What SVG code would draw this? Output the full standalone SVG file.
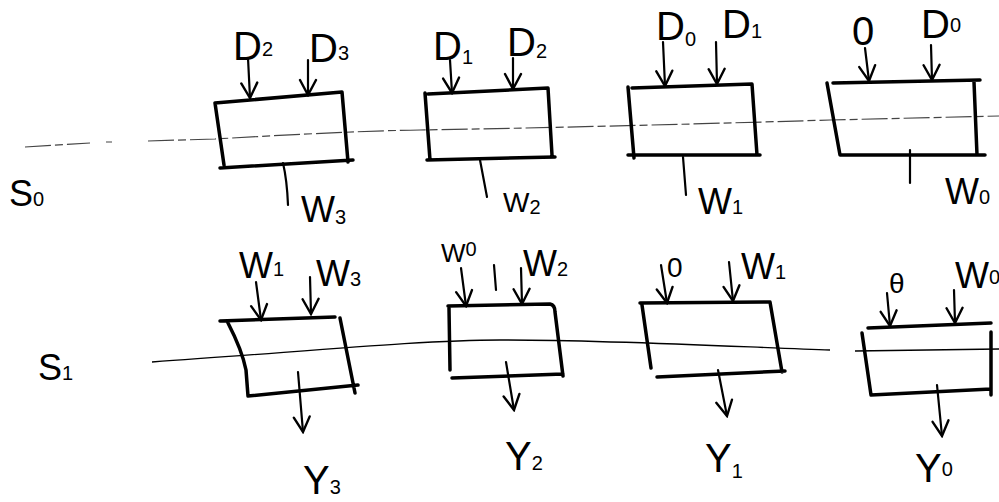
<svg xmlns="http://www.w3.org/2000/svg" width="999" height="502" viewBox="0 0 999 502">
<style>
.box{fill:none;stroke:#000;stroke-width:3.5;stroke-linejoin:round;stroke-linecap:round}
.arr{fill:none;stroke:#000;stroke-width:2.2;stroke-linecap:round;marker-end:url(#ah)}
.ln{fill:none;stroke:#000;stroke-width:2.2;stroke-linecap:round}
.bus0{fill:none;stroke:#444;stroke-width:1.2;stroke-dasharray:26 4 8 4}
.bus1{fill:none;stroke:#000;stroke-width:1.3}
.lab{font-family:"Liberation Sans",Arial,sans-serif;font-size:36px;fill:#000}
.big{font-size:40px}
.sub{font-size:20px}
</style>
<defs>
<marker id="ah" viewBox="0 0 20 20" refX="18" refY="10" markerWidth="20" markerHeight="20" markerUnits="userSpaceOnUse" orient="auto">
<path d="M3,2 L18,10 L3,18" fill="none" stroke="#000" stroke-width="2.4" stroke-linecap="round"/>
</marker>
</defs>
<rect width="999" height="502" fill="#fff"/>

<g id="connectors">
<path class="bus0" d="M25,147 L90,143 M106,142 L112,142 M148,141 L215,139 Q350,131 420,130 Q600,127 830,120 L999,116"/>
<path class="bus1" d="M152,362 C300,352 420,340 500,340 C620,340 760,348 830,350 M855,351 L999,349"/>
<path class="arr" d="M248,58 L250,98"/>
<path class="arr" d="M308,60 L308,95"/>
<path class="ln" d="M283,163 Q287,180 288,205"/>
<path class="arr" d="M450,60 L452,93"/>
<path class="arr" d="M513,58 L513,89"/>
<path class="ln" d="M480,160 L487,197"/>
<path class="arr" d="M663,42 L665,86"/>
<path class="arr" d="M716,42 L717,84"/>
<path class="ln" d="M683,157 L686,195"/>
<path class="arr" d="M865,48 L869,81"/>
<path class="arr" d="M931,45 L932,80"/>
<path class="ln" d="M910,150 L910,183"/>
<path class="arr" d="M256,282 L261,320"/>
<path class="arr" d="M310,277 L311,314"/>
<path class="arr" d="M298,372 L303,432"/>
<path class="arr" d="M461,268 L466,306"/>
<path class="ln" d="M494,265 L496,290"/>
<path class="arr" d="M521,268 L522,304"/>
<path class="arr" d="M506,362 L514,410"/>
<path class="arr" d="M661,265 L667,303"/>
<path class="arr" d="M729,262 L733,301"/>
<path class="arr" d="M718,370 L727,416"/>
<path class="arr" d="M887,293 L890,326"/>
<path class="arr" d="M954,290 L955,323"/>
<path class="arr" d="M937,385 L942,436"/>
</g>

<g id="label-s0"><text class="lab" x="9" y="206">S<tspan class="sub">0</tspan></text></g>
<g id="label-s1"><text class="lab" x="38" y="380">S<tspan class="sub">1</tspan></text></g>

<g id="node-r0c3">
<path class="box" d="M215,103 L342,92 L348,162 M215,103 L224,165 M220,168 L353,160"/>
</g>
<g id="node-r0c2">
<path class="box" d="M428,94 L548,88 L552,155 M425,93 L430,160 M427,160 L555,157"/>
</g>
<g id="node-r0c1">
<path class="box" d="M632,88 L752,84 L757,155 M628,87 L634,158 M628,155 L760,155"/>
</g>
<g id="node-r0c0">
<path class="box" d="M833,83 L980,80 M974,82 L977,155 M827,83 L840,155 L985,155"/>
</g>
<g id="node-r1c3">
<path class="box" d="M220,321 L335,317 M228,323 Q242,350 246,370 L248,396 L358,385 M340,318 L355,393"/>
</g>
<g id="node-r1c2">
<path class="box" d="M448,306 L550,304 Q555,305 555,312 L563,376 M449,308 L450,370 M452,378 L563,374"/>
</g>
<g id="node-r1c1">
<path class="box" d="M640,303 L770,302 L782,372 M642,305 L651,368 M657,377 L785,371"/>
</g>
<g id="node-r1c0">
<path class="box" d="M868,328 L991,323 M991,332 L991,395 M862,333 L871,395 L991,389"/>
</g>

<g id="label-r0-in">
<text class="lab big" x="233" y="60">D<tspan class="sub" dy="-4">2</tspan></text>
<text class="lab big" x="309" y="62">D<tspan class="sub" dy="-2">3</tspan></text>
<text class="lab big" x="433" y="60">D<tspan class="sub" dy="4">1</tspan></text>
<text class="lab big" x="507" y="56">D<tspan class="sub" dy="2">2</tspan></text>
<text class="lab big" x="656" y="40">D<tspan class="sub" dy="6">0</tspan></text>
<text class="lab big" x="722" y="38">D<tspan class="sub">1</tspan></text>
<text class="lab big" x="852" y="45">0</text>
<text class="lab big" x="921" y="38">D<tspan class="sub" dy="-6">0</tspan></text>
</g>
<g id="label-r0-out">
<text class="lab" x="301" y="222">W<tspan class="sub" dy="2">3</tspan></text>
<text class="lab" x="503" y="212" style="font-size:28px">W<tspan class="sub" dy="2">2</tspan></text>
<text class="lab" x="698" y="214">W<tspan class="sub">1</tspan></text>
<text class="lab" x="945" y="204">W<tspan class="sub">0</tspan></text>
</g>
<g id="label-r1-in">
<text class="lab" x="239" y="278">W<tspan class="sub" dy="-2">1</tspan></text>
<text class="lab" x="316" y="286">W<tspan class="sub">3</tspan></text>
<text class="lab" x="441" y="262" style="font-size:26px">W<tspan class="sub" dy="-6">0</tspan></text>
<text class="lab" x="523" y="276">W<tspan class="sub">2</tspan></text>
<text class="lab" x="667" y="277" style="font-size:28px">0</text>
<text class="lab" x="741" y="279">W<tspan class="sub">1</tspan></text>
<text class="lab" x="889" y="293" style="font-size:28px">θ</text>
<text class="lab" x="955" y="288">W<tspan class="sub" dy="-4">0</tspan></text>
</g>
<g id="label-r1-out">
<text class="lab big" x="303" y="494">Y<tspan class="sub">3</tspan></text>
<text class="lab big" x="505" y="470">Y<tspan class="sub">2</tspan></text>
<text class="lab big" x="705" y="472">Y<tspan class="sub" dy="6">1</tspan></text>
<text class="lab big" x="915" y="482">Y<tspan class="sub" dy="-6">0</tspan></text>
</g>
</svg>
